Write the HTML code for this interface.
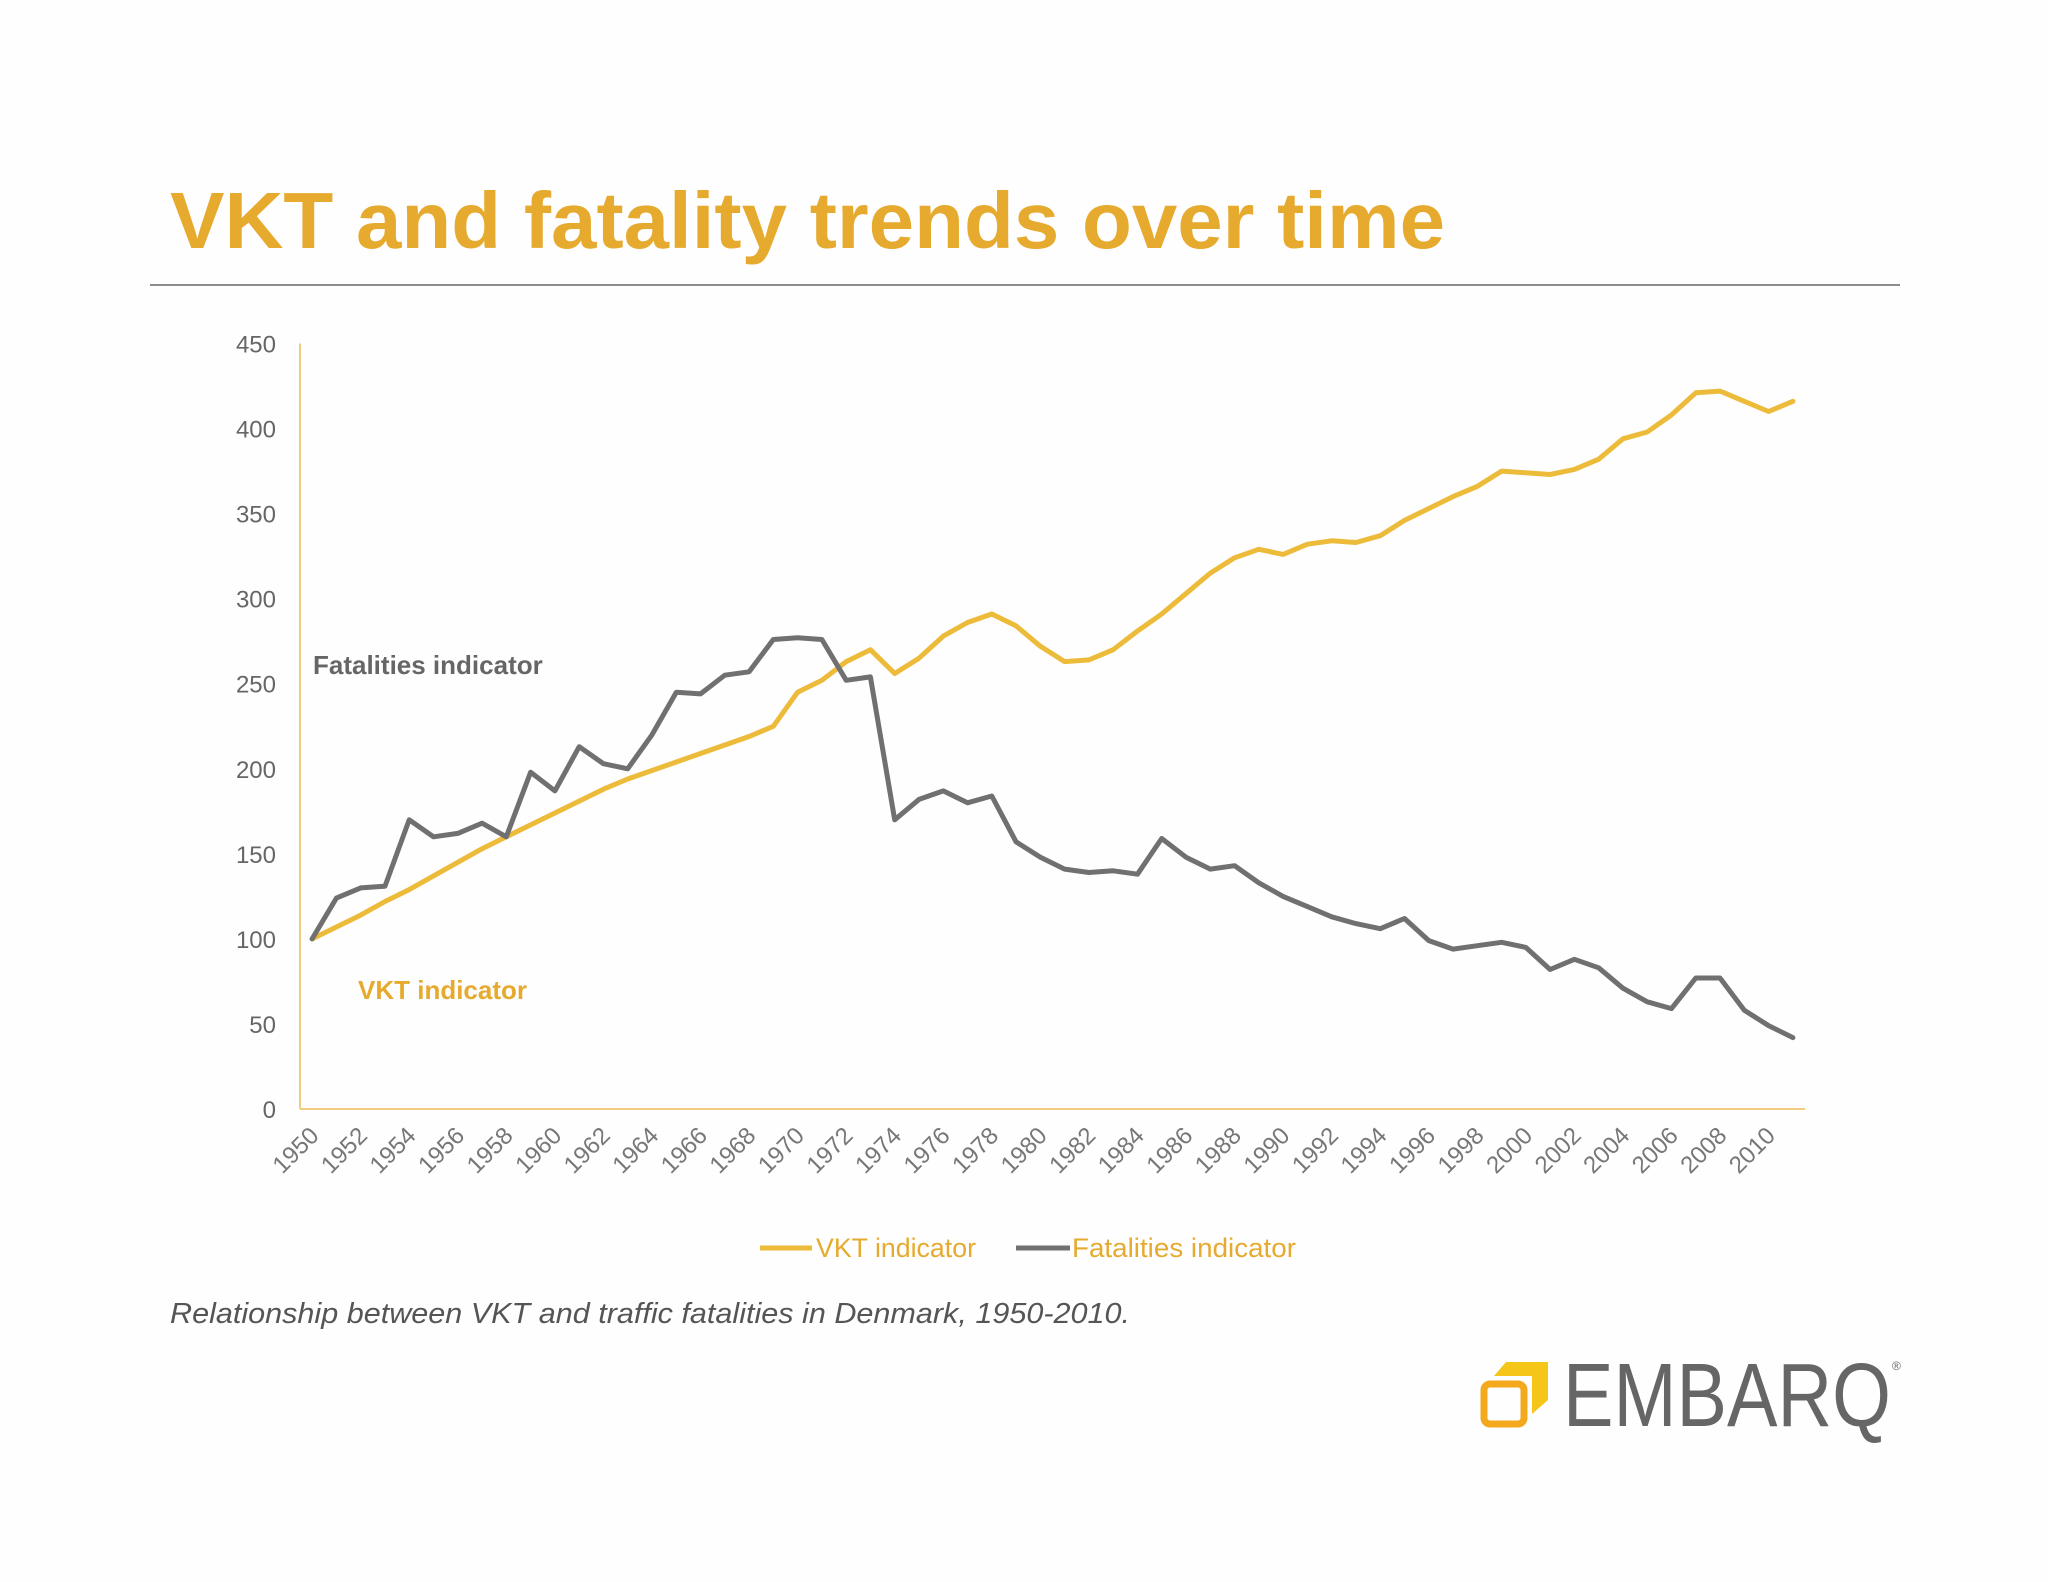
<!DOCTYPE html>
<html><head><meta charset="utf-8"><style>
html,body{margin:0;padding:0;background:#fff;}
svg{display:block;font-family:"Liberation Sans",sans-serif;}
</style></head><body>
<svg id="chart" width="2048" height="1582" viewBox="0 0 2048 1582" xmlns="http://www.w3.org/2000/svg">
<rect width="2048" height="1582" fill="#fefefe"/>
<text x="170" y="248" font-size="80" font-weight="bold" fill="#E6AA2E" textLength="1275" lengthAdjust="spacingAndGlyphs">VKT and fatality trends over time</text>
<line x1="150" y1="285" x2="1900" y2="285" stroke="#666" stroke-width="1.5"/>
<g id="axes"></g>
<g id="series"></g>
<text x="313" y="674" font-size="26" font-weight="bold" fill="#666">Fatalities indicator</text>
<text x="358" y="999" font-size="26" font-weight="bold" fill="#E6AA2E">VKT indicator</text>
<g>
<line x1="760" y1="1248" x2="812" y2="1248" stroke="#EDBB3A" stroke-width="5"/>
<text x="816" y="1257" font-size="27" fill="#E6AA2E" textLength="160" lengthAdjust="spacingAndGlyphs">VKT indicator</text>
<line x1="1016" y1="1248" x2="1070" y2="1248" stroke="#707070" stroke-width="5"/>
<text x="1072" y="1257" font-size="27" fill="#E6AA2E" textLength="224" lengthAdjust="spacingAndGlyphs">Fatalities indicator</text>
</g>
<text x="170" y="1323" font-size="29" font-style="italic" fill="#555" textLength="960" lengthAdjust="spacingAndGlyphs">Relationship between VKT and traffic fatalities in Denmark, 1950-2010.</text>
<g>
<path d="M1506 1362 L1548 1362 L1548 1400 L1532 1414 L1532 1376 L1494 1376 Z" fill="#F5C518"/>
<rect x="1484" y="1384" width="40" height="40" rx="6" fill="none" stroke="#F2A91E" stroke-width="7"/>
<text x="1563" y="1426" font-size="90" fill="#666" textLength="328" lengthAdjust="spacingAndGlyphs">EMBARQ</text>
<text x="1892" y="1370" font-size="12" fill="#666">®</text>
</g>
</svg>
<script>
const years = [];
for (let y = 1950; y <= 2011; y++) years.push(y);
const vktValues = [100,107,114,122,129,137,145,153,160,167,174,181,188,194,199,204,209,214,219,225,245,252,263,270,256,265,278,286,291,284,272,263,264,270,281,291,303,315,324,329,326,332,334,333,337,346,353,360,366,375,374,373,376,382,394,398,408,421,422,416,410,416];
const fatalityValues = [100,124,130,131,170,160,162,168,160,198,187,213,203,200,220,245,244,255,257,276,277,276,252,254,170,182,187,180,184,157,148,141,139,140,138,159,148,141,143,133,125,119,113,109,106,112,99,94,96,98,95,82,88,83,71,63,59,77,77,58,49,42];
const yTicks = [0,50,100,150,200,250,300,350,400,450];

const NS = "http://www.w3.org/2000/svg";
const X0 = 300, X1 = 1805, Y0 = 1109, Y1 = 343.5, YMAX = 450;
const step = (X1 - X0) / years.length;
function xPos(i){ return X0 + step * (i + 0.5); }
function yPos(v){ return Y0 - (v / YMAX) * (Y0 - Y1); }
function mk(tag, attrs, parent){
  const e = document.createElementNS(NS, tag);
  for (const k in attrs) e.setAttribute(k, attrs[k]);
  parent.appendChild(e); return e;
}
const axes = document.getElementById('axes');
const yAxis = mk('line', {x1:X0, y1:Y1, x2:X0, y2:Y0, stroke:'#F2CC80', 'stroke-width':2}, axes);


const xAxis = mk('line', {x1:X0, y1:Y0, x2:X1, y2:Y0, stroke:'#F2CC80', 'stroke-width':2}, axes);


yTicks.forEach(v => {
  const t = mk('text', {x:276, y:yPos(v)+9, 'font-size':24, fill:'#666', 'text-anchor':'end'}, axes);
  t.textContent = v;
  
  
});
years.forEach((yr, i) => {
  if (i % 2) return;
  const x = xPos(i) + 8, y = Y0 + 28;
  const t = mk('text', {x:x, y:y, 'font-size':24, fill:'#777', 'text-anchor':'end', transform:`rotate(-45 ${x} ${y})`}, axes);
  t.textContent = yr;
  
  
});
const series = document.getElementById('series');
function line(vals, color, name){
  const pts = vals.map((v,i)=> xPos(i).toFixed(1)+','+yPos(v).toFixed(1)).join(' ');
  const p = mk('polyline', {points:pts, fill:'none', stroke:color, 'stroke-width':5, 'stroke-linejoin':'round', 'stroke-linecap':'round'}, series);
  
  
}
line(vktValues, '#EDBB3A', 'vkt-line');
line(fatalityValues, '#707070', 'fatalities-line');
</script>
</body></html>
